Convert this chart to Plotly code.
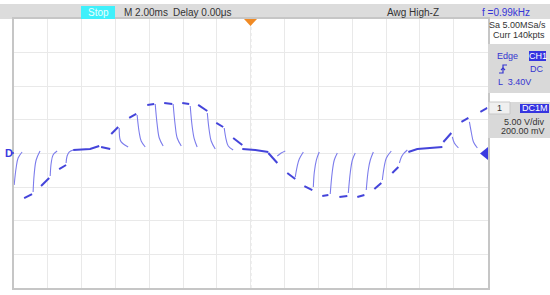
import plotly.graph_objects as go

# ---------------- data (time in ms, voltage in V) ----------------
# dense, flat parts of the trace (switching plateaus)
bar_segments = [
    [(-13.40, -6.62), (-12.93, -6.03)],
    [(-12.40, -4.84), (-11.92, -3.65)],
    [(-11.33, -2.31), (-10.92, -1.71)],
    [(-10.50, 0.52), (-9.50, 0.67), (-8.96, 1.12)],
    [(-8.85, 0.97), (-8.31, 0.67)],
    [(-8.25, 2.90), (-7.84, 3.94)],
    [(-7.19, 5.28), (-6.77, 5.88)],
    [(-6.12, 7.22), (-5.71, 7.37)],
    [(-5.12, 7.51), (-4.64, 7.37)],
    [(-4.05, 7.51), (-3.64, 7.37)],
    [(-3.11, 7.22), (-2.57, 6.32)],
    [(-2.04, 4.54), (-1.63, 3.94)],
    [(-1.04, 2.31), (-0.50, 1.26)],
    [(-0.50, 0.67), (0.27, 0.52), (1.04, 0.22)],
    [(1.04, 0.07), (1.57, -1.41)],
    [(2.16, -2.90), (2.63, -3.79)],
    [(3.17, -4.84), (3.64, -5.43)],
    [(4.23, -6.32), (4.59, -6.18)],
    [(5.24, -6.47), (5.71, -6.32)],
    [(6.30, -6.47), (6.72, -6.18)],
    [(7.31, -5.28), (7.72, -4.39)],
    [(8.37, -2.90), (8.73, -2.01)],
    [(9.32, 0.22), (9.85, 0.67), (11.33, 0.97)],
    [(11.39, 1.71), (11.86, 3.05)],
    [(12.46, 4.69), (12.87, 5.28)],
    [(13.58, 6.18), (13.99, 6.77)],
]

# fast, faint relaxation curves after each switching edge
curve_segments = [
    [(-13.99, -4.69), (-13.875, -2.16), (-13.757, -0.67), (-13.52, 0.22)],
    [(-12.87, -5.73), (-12.81, -3.20), (-12.69, -0.97), (-12.46, 0.37)],
    [(-11.86, -3.35), (-11.80, -1.41), (-11.69, -0.22), (-11.45, 0.37)],
    [(-10.92, -1.41), (-10.86, -0.37), (-10.74, 0.22), (-10.50, 0.52)],
    [(-7.78, 3.79), (-7.72, 2.01), (-7.60, 1.56), (-7.25, 0.97)],
    [(-6.72, 5.73), (-6.60, 3.20), (-6.48, 1.86), (-6.24, 0.97)],
    [(-5.65, 7.37), (-5.53, 4.24), (-5.41, 2.31), (-5.18, 1.12)],
    [(-4.59, 7.37), (-4.47, 4.24), (-4.35, 2.31), (-4.11, 1.12)],
    [(-3.58, 7.07), (-3.46, 3.94), (-3.34, 2.16), (-3.17, 0.97)],
    [(-2.57, 6.03), (-2.46, 3.50), (-2.34, 1.86), (-2.10, 0.67)],
    [(-1.57, 3.79), (-1.45, 2.01), (-1.33, 1.12), (-1.04, 0.52)],
    [(1.57, -0.37), (1.80, 0.07), (2.04, 0.37)],
    [(2.63, -3.50), (2.75, -1.86), (2.87, -0.82), (3.11, 0.22)],
    [(3.70, -4.98), (3.76, -2.75), (3.88, -0.97), (4.05, 0.22)],
    [(4.70, -6.03), (4.82, -2.75), (4.94, -0.97), (5.12, 0.07)],
    [(5.77, -5.88), (5.89, -2.75), (6.01, -0.97), (6.18, 0.07)],
    [(6.83, -5.43), (6.95, -2.46), (7.07, -0.97), (7.25, 0.22)],
    [(7.78, -3.94), (7.90, -1.86), (8.02, -0.67), (8.31, 0.37)],
    [(8.79, -1.41), (8.91, -0.52), (9.02, -0.07), (9.26, 0.52)],
    [(11.92, 2.46), (12.04, 1.56), (12.28, 0.82)],
    [(12.93, 4.69), (13.05, 3.05), (13.17, 1.71), (13.40, 0.82)],
]

time_div_ms = 2.0      # M 2.00ms
volt_div = 5.0         # 5.00 V/div
n_hdiv = 14
n_vdiv = 8

header_texts = {"stop": "Stop", "timebase": "M 2.00ms", "delay": "Delay 0.00\u03bcs",
                "awg": "Awg High-Z", "freq": "f =0.99kHz"}
panel_texts = {"sa": "Sa 5.00MSa/s", "curr": "Curr 140kpts", "edge": "Edge", "ch": "CH1",
               "coupling": "DC", "level": "L  3.40V", "tab": "1", "imp": "DC1M",
               "vdiv": "5.00 V/div", "offset": "200.00 mV"}


def flatten(segs):
    xs, ys = [], []
    for seg in segs:
        for t, v in seg:
            xs.append(t)
            ys.append(v)
        xs.append(None)
        ys.append(None)
    return xs, ys


W, H = 550, 295
def px(x):
    return x / W
def py(y):
    return 1 - y / H

fig = go.Figure()
cx, cy = flatten(curve_segments)
bx, by = flatten(bar_segments)
fig.add_trace(go.Scatter(x=cx, y=cy, mode="lines",
                         line=dict(color="#7c7cec", width=1.1, shape="spline", smoothing=1.0),
                         hoverinfo="skip", showlegend=False, connectgaps=False))
fig.add_trace(go.Scatter(x=bx, y=by, mode="lines", line=dict(color="#4444da", width=2.0),
                         hoverinfo="skip", showlegend=False, connectgaps=False))

xr = n_hdiv / 2 * time_div_ms
yr = n_vdiv / 2 * volt_div

shapes = []
# top status bar
shapes.append(dict(type="rect", xref="paper", yref="paper", x0=0, x1=1, y0=py(19), y1=py(4),
                   fillcolor="#dcdcdc", line=dict(width=0), layer="below"))
shapes.append(dict(type="rect", xref="paper", yref="paper", x0=px(81), x1=px(115), y0=py(19), y1=py(6),
                   fillcolor="#3ff0fb", line=dict(width=0)))
# centre dotted lines
shapes.append(dict(type="line", xref="x", yref="y", x0=0, x1=0, y0=-yr, y1=yr,
                   line=dict(color="#c4c4c4", width=1, dash="dot"), layer="below"))
shapes.append(dict(type="line", xref="x", yref="y", x0=-xr, x1=xr, y0=0, y1=0,
                   line=dict(color="#c4c4c4", width=1, dash="dot"), layer="below"))
# right side panels
shapes.append(dict(type="rect", xref="paper", yref="paper", x0=px(488), x1=1, y0=py(93), y1=py(44),
                   fillcolor="#d9d9d9", line=dict(width=0)))
shapes.append(dict(type="rect", xref="paper", yref="paper", x0=px(529), x1=px(546), y0=py(61), y1=py(51),
                   fillcolor="#3535e0", line=dict(width=0)))
shapes.append(dict(type="rect", xref="paper", yref="paper", x0=px(488), x1=1, y0=py(138), y1=py(102),
                   fillcolor="#d9d9d9", line=dict(width=0)))
shapes.append(dict(type="rect", xref="paper", yref="paper", x0=px(489), x1=px(510), y0=py(114), y1=py(102),
                   fillcolor="#f0f0f0", line=dict(width=1, color="#c8c8c8")))
shapes.append(dict(type="rect", xref="paper", yref="paper", x0=px(520), x1=px(549), y0=py(113), y1=py(104),
                   fillcolor="#3535e0", line=dict(width=0)))
# trigger edge icon
shapes.append(dict(type="path", xref="paper", yref="paper",
                   path=f"M {px(499)} {py(73)} L {px(503)} {py(73)} L {px(503)} {py(65)} L {px(507)} {py(65)}",
                   line=dict(color="#3535d0", width=1.2)))
shapes.append(dict(type="path", xref="paper", yref="paper",
                   path=f"M {px(501)} {py(70)} L {px(503)} {py(68)} L {px(505)} {py(70)}",
                   line=dict(color="#3535d0", width=1.2)))
# trigger position (top, orange) and trigger level (right, blue) markers
shapes.append(dict(type="path", xref="paper", yref="paper",
                   path=f"M {px(244)} {py(19)} L {px(257)} {py(19)} L {px(250.5)} {py(26)} Z",
                   fillcolor="#f08a24", line=dict(width=0)))
shapes.append(dict(type="path", xref="paper", yref="paper",
                   path=f"M {px(488)} {py(147)} L {px(488)} {py(160)} L {px(480)} {py(153.5)} Z",
                   fillcolor="#3a3ae0", line=dict(width=0)))
# channel ground marker stub
shapes.append(dict(type="line", xref="paper", yref="paper", x0=px(11), x1=px(14), y0=py(153), y1=py(153),
                   line=dict(color="#3a3ae0", width=1.5)))

ann = []
def txt(s, x, y, anchor="left", color="#3a3a3a", size=10, bold=False):
    ann.append(dict(text=(f"<b>{s}</b>" if bold else s), xref="paper", yref="paper", x=px(x), y=py(y),
                    xanchor=anchor, yanchor="middle", showarrow=False,
                    font=dict(family="Liberation Sans, Arial, sans-serif", size=size, color=color)))

txt(header_texts["stop"], 98, 13, "center", "#eaffff", 10)
txt(header_texts["timebase"], 122, 12.5, "left", "#333333", 10)
txt(header_texts["delay"], 171, 12.5, "left", "#333333", 10)
txt(header_texts["awg"], 385, 12.5, "left", "#333333", 10)
txt(header_texts["freq"], 480, 12.5, "left", "#3535d8", 10)
txt(panel_texts["sa"], 548, 25, "right", "#333333", 9)
txt(panel_texts["curr"], 547, 35, "right", "#333333", 9)
txt(panel_texts["edge"], 495, 56, "left", "#3535d0", 9)
txt(panel_texts["ch"], 537.5, 56.5, "center", "#ffffff", 9)
txt(panel_texts["coupling"], 546, 69, "right", "#3535d0", 9)
txt(panel_texts["level"], 496, 82, "left", "#3535d0", 9)
txt(panel_texts["tab"], 499.5, 108, "center", "#333333", 9)
txt(panel_texts["imp"], 534.5, 108.5, "center", "#ffffff", 9)
txt(panel_texts["vdiv"], 547, 122, "right", "#333333", 9)
txt(panel_texts["offset"], 547, 131, "right", "#333333", 9)
txt("D", 8.5, 153, "center", "#3a3ae0", 11, bold=True)

fig.update_layout(
    width=W, height=H, margin=dict(l=0, r=0, t=0, b=0),
    paper_bgcolor="white", plot_bgcolor="white",
    shapes=shapes, annotations=ann, showlegend=False,
    xaxis=dict(domain=[px(14), px(487.5)], range=[-xr, xr], dtick=time_div_ms, tick0=0,
               showgrid=True, gridcolor="#e9e9e9", gridwidth=1, zeroline=False,
               showticklabels=False, ticks="", showline=True, mirror=True,
               linecolor="#c6c6c6", linewidth=1.5, fixedrange=True),
    yaxis=dict(domain=[1 - 288 / H, 1 - 19 / H], range=[-yr, yr], dtick=volt_div, tick0=0,
               showgrid=True, gridcolor="#e9e9e9", gridwidth=1, zeroline=False,
               showticklabels=False, ticks="", showline=True, mirror=True,
               linecolor="#c6c6c6", linewidth=1.5, fixedrange=True),
)

fig.write_html("out.html", config={"displayModeBar": False})

# remove the browser's default page margin so the 550x295 figure fills the window exactly
with open("out.html", "r", encoding="utf-8") as f:
    html = f.read()
html = html.replace("<head>", "<head><style>html,body{margin:0;padding:0;overflow:hidden;}</style>", 1)
with open("out.html", "w", encoding="utf-8") as f:
    f.write(html)
